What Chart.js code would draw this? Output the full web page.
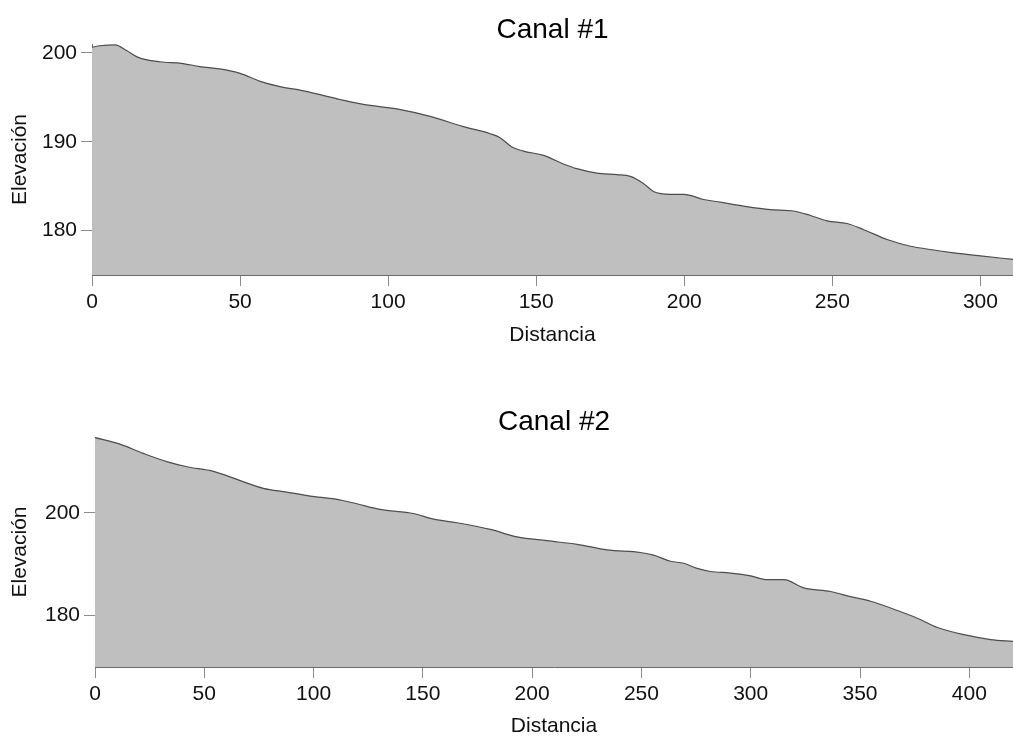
<!DOCTYPE html>
<html>
<head>
<meta charset="utf-8">
<script src="https://cdn.jsdelivr.net/npm/chart.js@4/dist/chart.umd.min.js"></script>
<style>
  html, body { margin: 0; padding: 0; background: #fff; }
  .box { position: absolute; left: 0; width: 1013px; }
  #box1 { top: 0; height: 360px; }
  #box2 { top: 390px; height: 346px; }
</style>
</head>
<body>
<div class="box" id="box1"><canvas id="canal1"></canvas></div>
<div class="box" id="box2"><canvas id="canal2"></canvas></div>
<script>
// Canal #1 profile (distance, elevation)
const dist1 = [0, 2.7, 7.8, 11.7, 15.6, 22.9, 30.2, 36.4, 43.1, 50, 56.8, 63.5, 70.3, 77, 83.8, 91.7,
  102.9, 114.2, 125.4, 134.5, 137.8, 141.8, 145.7, 152.5, 159.2, 163.7, 170.5, 177.3, 181.8, 186.2,
  189.6, 195.3, 199.8, 206.5, 212.2, 220, 229, 236.9, 242.6, 248.2, 255, 260.6, 268.5, 276.4, 283.1,
  291, 300, 311];
const elev1 = [200.63, 200.8, 200.9, 200.26, 199.5, 199.0, 198.83, 198.46, 198.2, 197.7, 196.8, 196.2,
  195.8, 195.3, 194.75, 194.2, 193.7, 192.85, 191.7, 190.9, 190.45, 189.4, 188.95, 188.46, 187.5,
  186.97, 186.47, 186.3, 186.1, 185.3, 184.4, 184.08, 184.08, 183.5, 183.2, 182.76, 182.36, 182.2,
  181.7, 181.1, 180.8, 180.1, 179.0, 178.24, 177.87, 177.5, 177.15, 176.75];

// Canal #2 profile
const dist2 = [0, 11.4, 22.1, 32.8, 42.1, 54.2, 66.4, 77, 87.8, 98.4, 110, 119.8, 130.5, 145.7, 154.9,
  165.6, 180.9, 193.1, 206.8, 220.6, 234.3, 249.5, 255.6, 263.3, 269.4, 275.5, 281.6, 290.8, 300,
  307.6, 315.2, 324.3, 336.5, 345.7, 354.9, 367.1, 376.2, 385.4, 397.6, 409.8, 420];
const elev2 = [214.7, 213.4, 211.6, 210.0, 209.0, 208.1, 206.3, 204.8, 204.07, 203.3, 202.7, 201.8,
  200.7, 199.9, 198.8, 198.1, 196.8, 195.35, 194.6, 193.9, 192.8, 192.3, 191.8, 190.6, 190.2, 189.2,
  188.6, 188.3, 187.75, 187.0, 187.0, 185.4, 184.7, 183.7, 182.8, 181.0, 179.5, 177.7, 176.3,
  175.35, 175.0];

// tick labels
const xTicks1 = [0, 50, 100, 150, 200, 250, 300];
const yTicks1 = [180, 190, 200];
const xTicks2 = [0, 50, 100, 150, 200, 250, 300, 350, 400];
const yTicks2 = [180, 200];

const FONT = 'Liberation Sans, Arial, sans-serif';

function makeProfile(id, title, xs, ys, xT, yT, lim) {
  const points = xs.map((x, i) => ({ x: x, y: ys[i] }));
  return new Chart(document.getElementById(id), {
    type: 'line',
    data: {
      datasets: [{
        data: points,
        fill: 'start',
        backgroundColor: '#bfbfbf',
        borderColor: '#4d4d4d',
        borderWidth: 1.2,
        pointRadius: 0,
        cubicInterpolationMode: 'monotone'
      }]
    },
    options: {
      responsive: true,
      maintainAspectRatio: false,
      animation: false,
      layout: { padding: 0 },
      plugins: {
        legend: { display: false },
        tooltip: { enabled: false },
        title: {
          display: true,
          text: title,
          fullSize: false,
          color: '#000',
          font: { family: FONT, size: 28, weight: 'normal', lineHeight: 1 },
          padding: lim.titlePad
        }
      },
      scales: {
        x: {
          type: 'linear',
          min: 0,
          max: lim.xMax,
          afterBuildTicks: s => { s.ticks = xT.map(v => ({ value: v })); },
          afterFit: s => { s.height = lim.xAxisH; },
          ticks: {
            autoSkip: false,
            maxRotation: 0,
            padding: 4,
            color: '#111',
            font: { family: FONT, size: 21 }
          },
          grid: { drawOnChartArea: false, drawTicks: true, tickLength: 11, color: '#8c8c8c' },
          border: { display: true, color: '#6a6a6a', width: 1 },
          title: {
            display: true,
            text: 'Distancia',
            color: '#111',
            font: { family: FONT, size: 21 },
            padding: { top: 0, bottom: lim.xTitlePad }
          }
        },
        y: {
          min: lim.yMin,
          max: lim.yMax,
          afterBuildTicks: s => { s.ticks = yT.map(v => ({ value: v })); },
          afterFit: s => { s.width = lim.yAxisW; },
          ticks: {
            padding: 4,
            color: '#111',
            font: { family: FONT, size: 21 }
          },
          grid: { drawOnChartArea: false, drawTicks: true, tickLength: 11, color: '#8c8c8c' },
          border: { display: true, color: '#6a6a6a', width: 1 },
          title: {
            display: true,
            text: 'Elevación',
            color: '#111',
            font: { family: FONT, size: 21 },
            padding: { top: 8, bottom: 0 }
          }
        }
      }
    }
  });
}

makeProfile('canal1', 'Canal #1', dist1, elev1, xTicks1, yTicks1, {
  xMax: 311, yMin: 175, yMax: 201,
  yAxisW: 92, xAxisH: 85, xTitlePad: 12,
  titlePad: { top: 16, bottom: 0 }
});

makeProfile('canal2', 'Canal #2', dist2, elev2, xTicks2, yTicks2, {
  xMax: 420, yMin: 170, yMax: 214.8,
  yAxisW: 95, xAxisH: 69, xTitlePad: -3,
  titlePad: { top: 18, bottom: 1 }
});
</script>
</body>
</html>
